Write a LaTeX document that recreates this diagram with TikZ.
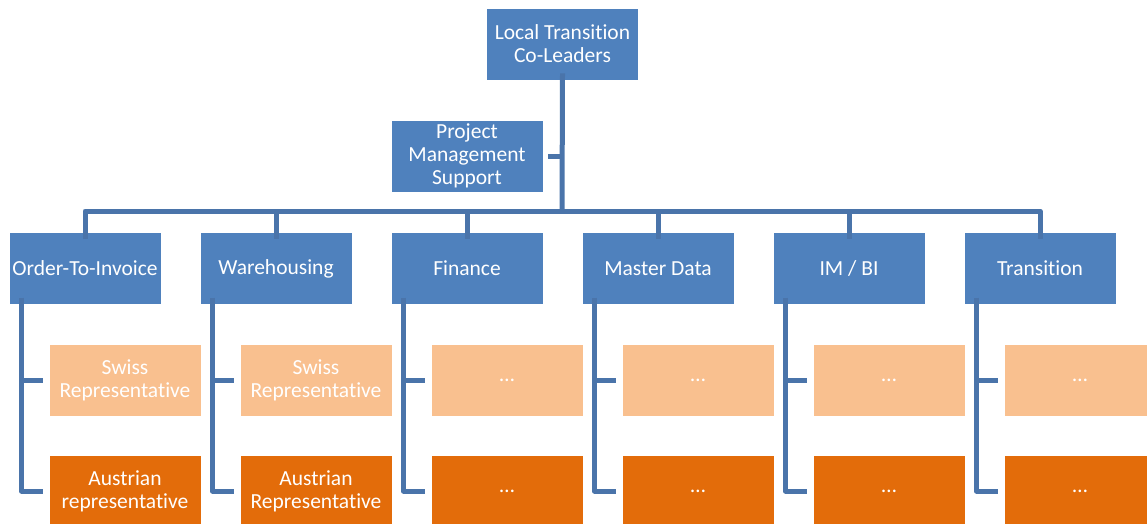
\documentclass[tikz,border=0pt]{standalone}
\usepackage{fontspec}
\setmainfont{Carlito}[Ligatures={NoCommon}]
\usepackage{tikz}
\usetikzlibrary{calc}
\definecolor{boxblue}{HTML}{4F81BD}
\definecolor{lineblue}{HTML}{4A74AA}
\definecolor{paleorange}{HTML}{F9C08F}
\definecolor{deeporange}{HTML}{E36C0A}

\begin{document}
\begin{tikzpicture}[x=1pt,y=-1pt,
        unit/.style={draw=white,line width=0.8pt,minimum width=152pt,minimum height=72pt,
            inner sep=0pt,align=center,text=white,font=\fontsize{21.5}{23}\selectfont},
        conn/.style={draw=lineblue,line width=5pt,line join=round}]
        \clip (0,0) rectangle (1147,524);
        % Top of the chart
        \node[unit,fill=boxblue] (lead) at (562.5,44) {Local Transition\\Co-Leaders};
        \node[unit,fill=boxblue] (pms) at (467,156) {Project\\Management\\Support};
        \coordinate (hub) at (562,211); % Meeting point of the bar
        % Departments with their two representatives
        \foreach \i/\x/\dept/\swiss/\aut in {
            1/85/Order-To-Invoice/Swiss\\Representative/Austrian\\representative,
            2/276/Warehousing/Swiss\\Representative/Austrian\\Representative,
            3/467/Finance/\ldots/\ldots,
            4/658/Master Data/\ldots/\ldots,
            5/849/{IM / BI}/\ldots/\ldots,
            6/1040/Transition/\ldots/\ldots}{
            \node[unit,fill=boxblue] (d\i) at (\x,268.5) {\dept};
            \node[unit,fill=paleorange] (s\i) at (\x+40,380) {\swiss};
            \node[unit,fill=deeporange] (a\i) at (\x+40,491) {\aut};
            % Bracket from department to representatives
            \draw[conn] ([xshift=13,yshift=7]d\i.south west) |- ([xshift=-6]s\i.west);
            \draw[conn] ([xshift=13]d\i.south west |- s\i.west) |- ([xshift=-6]a\i.west);
        }
        % Connectors of the top part
        \draw[conn] ([yshift=7]lead.south) -- (hub);
        \draw[conn] ([xshift=5]pms.east) -- (pms.east -| hub);
        \draw[conn] ([yshift=-7]d1.north) |- (hub) -| ([yshift=-7]d6.north);
        \foreach \i in {2,...,5}
            \draw[conn] (d\i.north |- hub) -- ([yshift=-7]d\i.north);
    \end{tikzpicture}
\end{document}
